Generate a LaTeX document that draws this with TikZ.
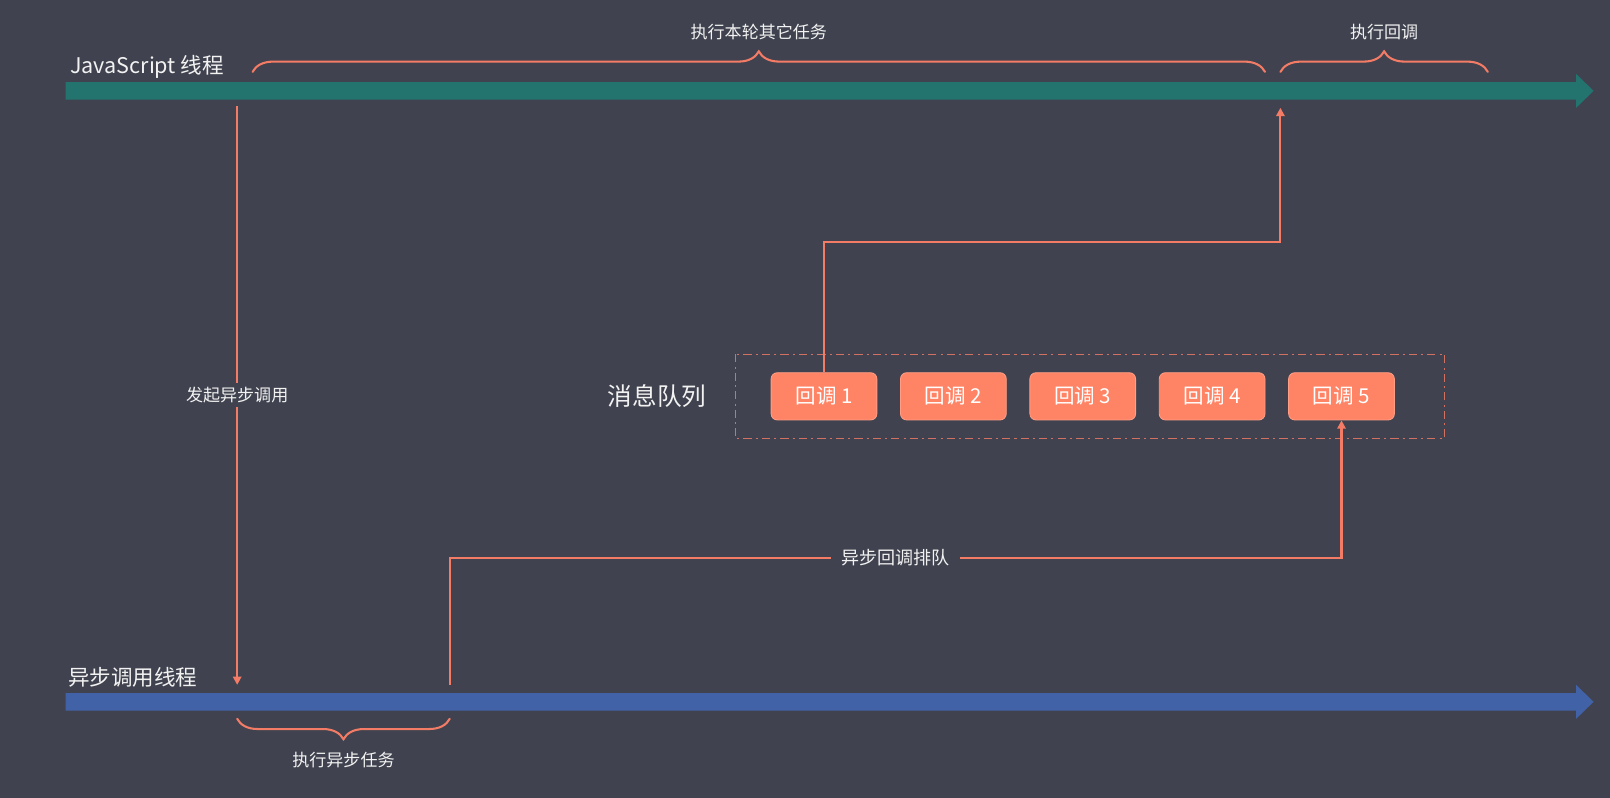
\documentclass[tikz,border=0pt]{standalone}
\usepackage{fontspec}
\setmainfont{Noto Sans CJK SC}
\usetikzlibrary{arrows.meta,decorations.pathreplacing,calc}
\definecolor{bg}{HTML}{40434F}
\definecolor{jsbar}{HTML}{23736F}
\definecolor{asyncbar}{HTML}{4262A8}
\definecolor{coral}{HTML}{F47C66}
\definecolor{boxfill}{HTML}{FF8466}
\definecolor{txt}{HTML}{F2F2F2}
\begin{document}
\begin{tikzpicture}[x=0.5pt,y=-0.5pt,
  lbl/.style={text=txt,font=\fontsize{8.3}{10}\selectfont,inner sep=2pt},
  gaplbl/.style={lbl,fill=bg,inner xsep=5pt},
  thread/.style={text=txt,font=\fontsize{10.5}{12}\selectfont,anchor=base west,inner sep=0pt},
  cbbox/.style={fill=boxfill,draw=boxfill!80!white,rounded corners=3pt,
    minimum width=51.5pt,minimum height=23pt,inner sep=0pt,
    text=white,font=\fontsize{10}{12}\selectfont},
  conn/.style={draw=coral,line width=1pt,-{Triangle[length=4pt,width=4pt]}},
  brc/.style={draw=coral,line width=1pt,line cap=round,decorate,
    decoration={brace,amplitude=10pt}},
  queue/.style={draw=coral!80!bg,line width=0.5pt,dash pattern=on 4pt off 2pt on 1pt off 2pt},
]
\useasboundingbox (0,0) rectangle (1568,777);
\fill[bg] (0,0) rectangle (1568,777);

% thread bars
\fill[jsbar] (64,80) -- (1535,80) -- (1535,72) -- (1552,88.5) -- (1535,105)
  -- (1535,97) -- (64,97) -- cycle;
\fill[asyncbar] (64,675) -- (1535,675) -- (1535,667) -- (1552,683.5) -- (1535,700)
  -- (1535,692) -- (64,692) -- cycle;
\node[thread] (jsname) at (68,72) {JavaScript 线程};
\node[thread] (asyncname) at (66,668) {异步调用线程};

% key points on the bars
\coordinate (jsout) at (231,103);
\coordinate (asyncin) at (231,667);
\coordinate (asyncout) at (438,667);
\coordinate (jsin) at (1247,105);

% braces
\draw[brc] (246,70) -- (1232,70) node[midway,above=13pt,lbl] (otherTasks) {执行本轮其它任务};
\draw[brc] (1247,70) -- (1449,70) node[midway,above=13pt,lbl] (runCb) {执行回调};
\draw[brc,decoration={mirror}] (231,700) -- (438,700) node[midway,below=14pt,lbl] (asyncTask) {执行异步任务};

% message queue
\draw[queue] (716,345) rectangle (1407,427);
\node[text=txt,font=\fontsize{12}{14}\selectfont] (mq) at (640,386) {消息队列};
\node[cbbox] (cb1) at (802.5,386) {回调 1};
\node[cbbox] (cb2) at (928.5,386) {回调 2};
\node[cbbox] (cb3) at (1054.5,386) {回调 3};
\node[cbbox] (cb4) at (1180.5,386) {回调 4};
\node[cbbox] (cb5) at (1306.5,386) {回调 5};

% connectors
\draw[conn] (jsout) -- node[gaplbl,pos=0.5] (startCall) {发起异步调用} (asyncin);
\draw[conn] (asyncout) |- node[gaplbl,pos=0.75,font=\fontsize{8.8}{10}\selectfont] (enqueue) {异步回调排队} (cb5.south |- 0,543) -- (cb5.south);
\draw[conn] (cb1.north) |- (1000,236) -| (jsin);
\end{tikzpicture}
\end{document}
